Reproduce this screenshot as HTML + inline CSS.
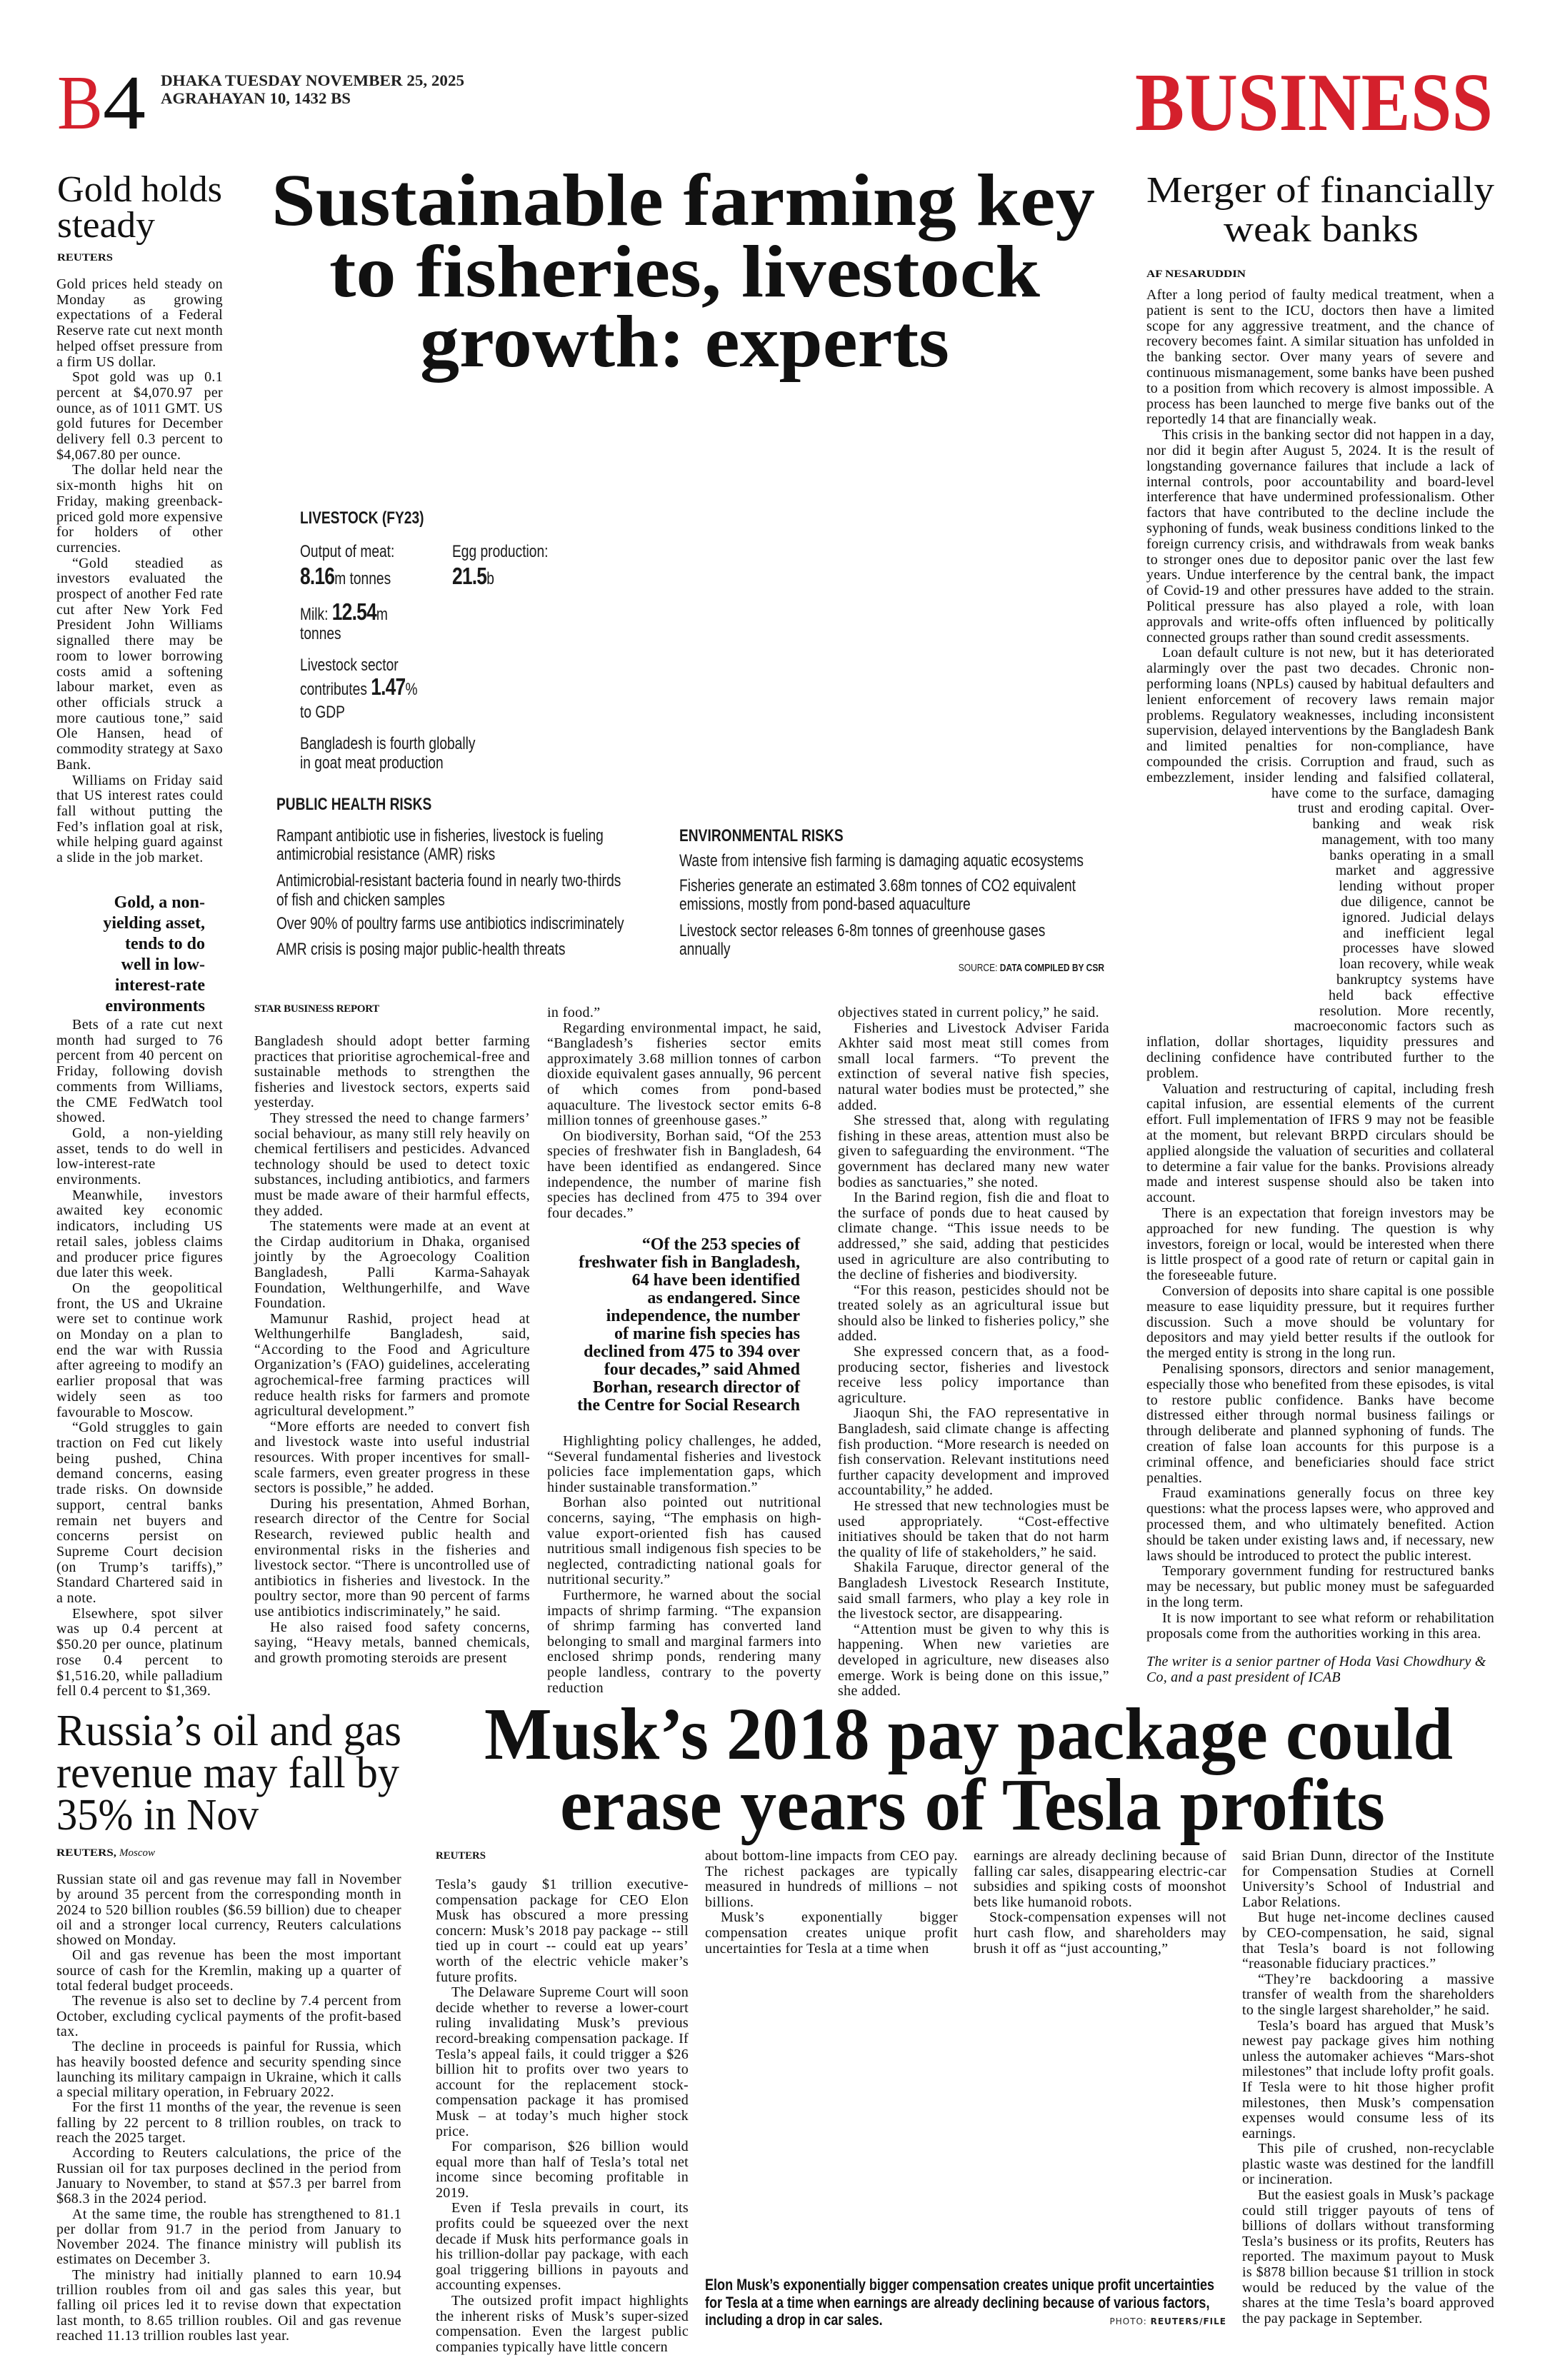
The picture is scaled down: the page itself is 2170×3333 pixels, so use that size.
<!DOCTYPE html>
<html><head><meta charset="utf-8">
<style>
body{margin:0;width:2170px;height:3333px;position:relative;background:#fff;overflow:hidden;color:#141414}
svg.ov{position:absolute;left:0;top:0}
.t{position:absolute;font-family:"Liberation Serif",serif;font-size:20px;letter-spacing:0.38px;line-height:21.7px;text-align:justify;color:#0d0d0d}
.t p{margin:0;text-indent:22px}
.t p.ni{text-indent:0}
.by{position:absolute;font-family:"Liberation Serif",serif;font-weight:bold;font-size:15px;letter-spacing:-0.3px}
.q{position:absolute;font-family:"Liberation Serif",serif;font-weight:bold;text-align:right;white-space:nowrap;color:#111}
.ig{position:absolute;font-family:"Liberation Sans",sans-serif;font-size:24px;line-height:24px;white-space:nowrap;transform:scaleX(.8);transform-origin:left top;color:#1a1a1a}
.ig b{font-weight:bold}
.big{font-size:33px;font-weight:bold;letter-spacing:-1px}
.cap{position:absolute;font-family:"Liberation Sans",sans-serif;font-weight:bold;font-size:22px;line-height:24.5px;white-space:nowrap;transform:scaleX(.82);transform-origin:left top;color:#111}
</style></head><body>

<svg class="ov" width="2170" height="3333" viewBox="0 0 2170 3333" font-family="Liberation Serif, serif">
<text x="80" y="180" font-size="108" fill="#d4202c" textLength="64" lengthAdjust="spacingAndGlyphs">B</text>
<text x="144" y="180" font-size="108" fill="#111" textLength="60" lengthAdjust="spacingAndGlyphs">4</text>
<text x="225" y="120" font-size="22" font-weight="bold" fill="#222" textLength="425" lengthAdjust="spacingAndGlyphs">DHAKA TUESDAY NOVEMBER 25, 2025</text>
<text x="225" y="145" font-size="22" font-weight="bold" fill="#222" textLength="266" lengthAdjust="spacingAndGlyphs">AGRAHAYAN 10, 1432 BS</text>
<text x="1589" y="182" font-size="116" font-weight="bold" fill="#d4202c" textLength="501" lengthAdjust="spacingAndGlyphs">BUSINESS</text>

<text x="80" y="282" font-size="52" fill="#111" textLength="231" lengthAdjust="spacingAndGlyphs">Gold holds</text>
<text x="80" y="332" font-size="52" fill="#111" textLength="137" lengthAdjust="spacingAndGlyphs">steady</text>
<text x="80" y="365" font-size="15" font-weight="bold" fill="#111" textLength="78" lengthAdjust="spacingAndGlyphs">REUTERS</text>

<text x="380" y="315" font-size="104" font-weight="bold" fill="#111" textLength="1153" lengthAdjust="spacingAndGlyphs">Sustainable farming key</text>
<text x="461" y="415" font-size="104" font-weight="bold" fill="#111" textLength="995" lengthAdjust="spacingAndGlyphs">to fisheries, livestock</text>
<text x="588" y="513" font-size="104" font-weight="bold" fill="#111" textLength="741" lengthAdjust="spacingAndGlyphs">growth: experts</text>

<text x="1605" y="283" font-size="52" fill="#111" textLength="487" lengthAdjust="spacingAndGlyphs">Merger of financially</text>
<text x="1713" y="338" font-size="52" fill="#111" textLength="273" lengthAdjust="spacingAndGlyphs">weak banks</text>
<text x="1605" y="388" font-size="15" font-weight="bold" fill="#111" textLength="139" lengthAdjust="spacingAndGlyphs">AF NESARUDDIN</text>

<text x="79" y="2444" font-size="62" fill="#111" textLength="483" lengthAdjust="spacingAndGlyphs">Russia’s oil and gas</text>
<text x="79" y="2503" font-size="62" fill="#111" textLength="480" lengthAdjust="spacingAndGlyphs">revenue may fall by</text>
<text x="79" y="2562" font-size="62" fill="#111" textLength="283" lengthAdjust="spacingAndGlyphs">35% in Nov</text>
<text x="79" y="2599" font-size="15" font-weight="bold" fill="#111" textLength="84" lengthAdjust="spacingAndGlyphs">REUTERS,</text>
<text x="167" y="2599" font-size="15" font-style="italic" fill="#111">Moscow</text>

<text x="678" y="2463" font-size="104" font-weight="bold" fill="#111" textLength="1356" lengthAdjust="spacingAndGlyphs">Musk’s 2018 pay package could</text>
<text x="784" y="2562" font-size="104" font-weight="bold" fill="#111" textLength="1155" lengthAdjust="spacingAndGlyphs">erase years of Tesla profits</text>
<text x="610" y="2603" font-size="15" font-weight="bold" fill="#111" textLength="70" lengthAdjust="spacingAndGlyphs">REUTERS</text>
</svg>

<!-- GOLD -->
<div class="t" style="left:79px;top:388px;width:233px;letter-spacing:0.3px">
<p class="ni">Gold prices held steady on Monday as growing expectations of a Federal Reserve rate cut next month helped offset pressure from a firm US dollar.</p>
<p>Spot gold was up 0.1 percent at $4,070.97 per ounce, as of 1011 GMT. US gold futures for December delivery fell 0.3 percent to $4,067.80 per ounce.</p>
<p>The dollar held near the six-month highs hit on Friday, making greenback-priced gold more expensive for holders of other currencies.</p>
<p>“Gold steadied as investors evaluated the prospect of another Fed rate cut after New York Fed President John Williams signalled there may be room to lower borrowing costs amid a softening labour market, even as other officials struck a more cautious tone,” said Ole Hansen, head of commodity strategy at Saxo Bank.</p>
<p>Williams on Friday said that US interest rates could fall without putting the Fed’s inflation goal at risk, while helping guard against a slide in the job market.</p>
</div>
<div class="q" style="left:100px;width:187px;top:1250px;font-size:24px;line-height:29px">Gold, a non-<br>yielding asset,<br>tends to do<br>well in low-<br>interest-rate<br>environments</div>
<div class="t" style="left:79px;top:1425px;width:233px">
<p>Bets of a rate cut next month had surged to 76 percent from 40 percent on Friday, following dovish comments from Williams, the CME FedWatch tool showed.</p>
<p>Gold, a non-yielding asset, tends to do well in low-interest-rate environments.</p>
<p>Meanwhile, investors awaited key economic indicators, including US retail sales, jobless claims and producer price figures due later this week.</p>
<p>On the geopolitical front, the US and Ukraine were set to continue work on Monday on a plan to end the war with Russia after agreeing to modify an earlier proposal that was widely seen as too favourable to Moscow.</p>
<p>“Gold struggles to gain traction on Fed cut likely being pushed, China demand concerns, easing trade risks. On downside support, central banks remain net buyers and concerns persist on Supreme Court decision (on Trump’s tariffs),” Standard Chartered said in a note.</p>
<p>Elsewhere, spot silver was up 0.4 percent at $50.20 per ounce, platinum rose 0.4 percent to $1,516.20, while palladium fell 0.4 percent to $1,369.</p>
</div>

<!-- INFOGRAPHIC -->
<div class="ig" style="left:420px;top:714px"><b>LIVESTOCK (FY23)</b></div>
<div class="ig" style="left:420px;top:761px">Output of meat:</div>
<div class="ig" style="left:633px;top:761px">Egg production:</div>
<div class="ig" style="left:420px;top:792px;line-height:30px"><span class="big">8.16</span>m tonnes</div>
<div class="ig" style="left:633px;top:792px;line-height:30px"><span class="big">21.5</span>b</div>
<div class="ig" style="left:420px;top:842px;line-height:30px">Milk: <span class="big">12.54</span>m</div>
<div class="ig" style="left:420px;top:876px">tonnes</div>
<div class="ig" style="left:420px;top:920px">Livestock sector</div>
<div class="ig" style="left:420px;top:947px;line-height:30px">contributes <span class="big">1.47</span>%</div>
<div class="ig" style="left:420px;top:986px">to GDP</div>
<div class="ig" style="left:420px;top:1030px">Bangladesh is fourth globally</div>
<div class="ig" style="left:420px;top:1057px">in goat meat production</div>
<div class="ig" style="left:387px;top:1115px"><b>PUBLIC HEALTH RISKS</b></div>
<div class="ig" style="left:387px;top:1159px">Rampant antibiotic use in fisheries, livestock is fueling</div>
<div class="ig" style="left:387px;top:1185px">antimicrobial resistance (AMR) risks</div>
<div class="ig" style="left:387px;top:1222px">Antimicrobial-resistant bacteria found in nearly two-thirds</div>
<div class="ig" style="left:387px;top:1249px">of fish and chicken samples</div>
<div class="ig" style="left:387px;top:1282px">Over 90% of poultry farms use antibiotics indiscriminately</div>
<div class="ig" style="left:387px;top:1318px">AMR crisis is posing major public-health threats</div>
<div class="ig" style="left:951px;top:1159px"><b>ENVIRONMENTAL RISKS</b></div>
<div class="ig" style="left:951px;top:1194px">Waste from intensive fish farming is damaging aquatic ecosystems</div>
<div class="ig" style="left:951px;top:1229px">Fisheries generate an estimated 3.68m tonnes of CO2 equivalent</div>
<div class="ig" style="left:951px;top:1255px">emissions, mostly from pond-based aquaculture</div>
<div class="ig" style="left:951px;top:1292px">Livestock sector releases 6-8m tonnes of greenhouse gases</div>
<div class="ig" style="left:951px;top:1318px">annually</div>
<div class="ig" style="left:1546px;top:1348px;font-size:15px;line-height:15px;transform-origin:right top;transform:translateX(-100%) scaleX(.8)">SOURCE: <b>DATA COMPILED BY CSR</b></div>

<!-- MAIN STORY -->
<div class="by" style="left:356px;top:1405px">STAR BUSINESS REPORT</div>
<div class="t" style="left:356px;top:1448px;width:386px;line-height:21.6px">
<p class="ni">Bangladesh should adopt better farming practices that prioritise agrochemical-free and sustainable methods to strengthen the fisheries and livestock sectors, experts said yesterday.</p>
<p>They stressed the need to change farmers’ social behaviour, as many still rely heavily on chemical fertilisers and pesticides. Advanced technology should be used to detect toxic substances, including antibiotics, and farmers must be made aware of their harmful effects, they added.</p>
<p>The statements were made at an event at the Cirdap auditorium in Dhaka, organised jointly by the Agroecology Coalition Bangladesh, Palli Karma-Sahayak Foundation, Welthungerhilfe, and Wave Foundation.</p>
<p>Mamunur Rashid, project head at Welthungerhilfe Bangladesh, said, “According to the Food and Agriculture Organization’s (FAO) guidelines, accelerating agrochemical-free farming practices will reduce health risks for farmers and promote agricultural development.”</p>
<p>“More efforts are needed to convert fish and livestock waste into useful industrial resources. With proper incentives for small-scale farmers, even greater progress in these sectors is possible,” he added.</p>
<p>During his presentation, Ahmed Borhan, research director of the Centre for Social Research, reviewed public health and environmental risks in the fisheries and livestock sector. “There is uncontrolled use of antibiotics in fisheries and livestock. In the poultry sector, more than 90 percent of farms use antibiotics indiscriminately,” he said.</p>
<p>He also raised food safety concerns, saying, “Heavy metals, banned chemicals, and growth promoting steroids are present</p>
</div>
<div class="t" style="left:766px;top:1408px;width:384px;line-height:21.6px">
<p class="ni">in food.”</p>
<p>Regarding environmental impact, he said, “Bangladesh’s fisheries sector emits approximately 3.68 million tonnes of carbon dioxide equivalent gases annually, 96 percent of which comes from pond-based aquaculture. The livestock sector emits 6-8 million tonnes of greenhouse gases.”</p>
<p>On biodiversity, Borhan said, “Of the 253 species of freshwater fish in Bangladesh, 64 have been identified as endangered. Since independence, the number of marine fish species has declined from 475 to 394 over four decades.”</p>
</div>
<div class="q" style="left:766px;width:354px;top:1731px;font-size:24px;line-height:25px">“Of the 253 species of<br>freshwater fish in Bangladesh,<br>64 have been identified<br>as endangered. Since<br>independence, the number<br>of marine fish species has<br>declined from 475 to 394 over<br>four decades,” said Ahmed<br>Borhan, research director of<br>the Centre for Social Research</div>
<div class="t" style="left:766px;top:2008px;width:384px;line-height:21.6px">
<p>Highlighting policy challenges, he added, “Several fundamental fisheries and livestock policies face implementation gaps, which hinder sustainable transformation.”</p>
<p>Borhan also pointed out nutritional concerns, saying, “The emphasis on high-value export-oriented fish has caused nutritious small indigenous fish species to be neglected, contradicting national goals for nutritional security.”</p>
<p>Furthermore, he warned about the social impacts of shrimp farming. “The expansion of shrimp farming has converted land belonging to small and marginal farmers into enclosed shrimp ponds, rendering many people landless, contrary to the poverty reduction</p>
</div>
<div class="t" style="left:1173px;top:1408px;width:380px;line-height:21.6px">
<p class="ni">objectives stated in current policy,” he said.</p>
<p>Fisheries and Livestock Adviser Farida Akhter said most meat still comes from small local farmers. “To prevent the extinction of several native fish species, natural water bodies must be protected,” she added.</p>
<p>She stressed that, along with regulating fishing in these areas, attention must also be given to safeguarding the environment. “The government has declared many new water bodies as sanctuaries,” she noted.</p>
<p>In the Barind region, fish die and float to the surface of ponds due to heat caused by climate change. “This issue needs to be addressed,” she said, adding that pesticides used in agriculture are also contributing to the decline of fisheries and biodiversity.</p>
<p>“For this reason, pesticides should not be treated solely as an agricultural issue but should also be linked to fisheries policy,” she added.</p>
<p>She expressed concern that, as a food-producing sector, fisheries and livestock receive less policy importance than agriculture.</p>
<p>Jiaoqun Shi, the FAO representative in Bangladesh, said climate change is affecting fish production. “More research is needed on fish conservation. Relevant institutions need further capacity development and improved accountability,” he added.</p>
<p>He stressed that new technologies must be used appropriately. “Cost-effective initiatives should be taken that do not harm the quality of life of stakeholders,” he said.</p>
<p>Shakila Faruque, director general of the Bangladesh Livestock Research Institute, said small farmers, who play a key role in the livestock sector, are disappearing.</p>
<p>“Attention must be given to why this is happening. When new varieties are developed in agriculture, new diseases also emerge. Work is being done on this issue,” she added.</p>
</div>

<!-- MERGER -->
<div class="t" style="left:1605px;top:403px;width:487px;line-height:21.8px;letter-spacing:0.2px">
<div style="float:left;width:0;height:719px"></div>
<div style="float:left;clear:left;width:276px;height:327px;shape-outside:polygon(0 0,175px 0,175px 21px,212px 22px,212px 43px,235px 44px,235px 65px,250px 66px,250px 87px,263px 88px,263px 109px,269px 110px,269px 131px,272px 132px,272px 153px,274px 154px,274px 175px,275px 176px,275px 197px,270px 198px,270px 219px,266px 220px,266px 241px,255px 242px,255px 263px,242px 264px,242px 285px,220px 286px,220px 305px,190px 306px,190px 326px,0 327px)"></div>
<p class="ni">After a long period of faulty medical treatment, when a patient is sent to the ICU, doctors then have a limited scope for any aggressive treatment, and the chance of recovery becomes faint. A similar situation has unfolded in the banking sector. Over many years of severe and continuous mismanagement, some banks have been pushed to a position from which recovery is almost impossible. A process has been launched to merge five banks out of the reportedly 14 that are financially weak.</p>
<p>This crisis in the banking sector did not happen in a day, nor did it begin after August 5, 2024. It is the result of longstanding governance failures that include a lack of internal controls, poor accountability and board-level interference that have undermined professionalism. Other factors that have contributed to the decline include the syphoning of funds, weak business conditions linked to the foreign currency crisis, and withdrawals from weak banks to stronger ones due to depositor panic over the last few years. Undue interference by the central bank, the impact of Covid-19 and other pressures have added to the strain. Political pressure has also played a role, with loan approvals and write-offs often influenced by politically connected groups rather than sound credit assessments.</p>
<p>Loan default culture is not new, but it has deteriorated alarmingly over the past two decades. Chronic non-performing loans (NPLs) caused by habitual defaulters and lenient enforcement of recovery laws remain major problems. Regulatory weaknesses, including inconsistent supervision, delayed interventions by the Bangladesh Bank and limited penalties for non-compliance, have compounded the crisis. Corruption and fraud, such as embezzlement, insider lending and falsified collateral, have come to the surface, damaging trust and eroding capital. Over-banking and weak risk management, with too many banks operating in a small market and aggressive lending without proper due diligence, cannot be ignored. Judicial delays and inefficient legal processes have slowed loan recovery, while weak bankruptcy systems have held back effective resolution. More recently, macroeconomic factors such as inflation, dollar shortages, liquidity pressures and declining confidence have contributed further to the problem.</p>
<p>Valuation and restructuring of capital, including fresh capital infusion, are essential elements of the current effort. Full implementation of IFRS 9 may not be feasible at the moment, but relevant BRPD circulars should be applied alongside the valuation of securities and collateral to determine a fair value for the banks. Provisions already made and interest suspense should also be taken into account.</p>
<p>There is an expectation that foreign investors may be approached for new funding. The question is why investors, foreign or local, would be interested when there is little prospect of a good rate of return or capital gain in the foreseeable future.</p>
<p>Conversion of deposits into share capital is one possible measure to ease liquidity pressure, but it requires further discussion. Such a move should be voluntary for depositors and may yield better results if the outlook for the merged entity is strong in the long run.</p>
<p>Penalising sponsors, directors and senior management, especially those who benefited from these episodes, is vital to restore public confidence. Banks have become distressed either through normal business failings or through deliberate and planned syphoning of funds. The creation of false loan accounts for this purpose is a criminal offence, and beneficiaries should face strict penalties.</p>
<p>Fraud examinations generally focus on three key questions: what the process lapses were, who approved and processed them, and who ultimately benefited. Action should be taken under existing laws and, if necessary, new laws should be introduced to protect the public interest.</p>
<p>Temporary government funding for restructured banks may be necessary, but public money must be safeguarded in the long term.</p>
<p>It is now important to see what reform or rehabilitation proposals come from the authorities working in this area.</p>
<p class="ni" style="margin-top:18px;font-style:italic;text-align:left">The writer is a senior partner of Hoda Vasi Chowdhury &amp; Co, and a past president of ICAB</p>
</div>

<!-- RUSSIA -->
<div class="t" style="left:79px;top:2622px;width:483px;line-height:21.3px">
<p class="ni">Russian state oil and gas revenue may fall in November by around 35 percent from the corresponding month in 2024 to 520 billion roubles ($6.59 billion) due to cheaper oil and a stronger local currency, Reuters calculations showed on Monday.</p>
<p>Oil and gas revenue has been the most important source of cash for the Kremlin, making up a quarter of total federal budget proceeds.</p>
<p>The revenue is also set to decline by 7.4 percent from October, excluding cyclical payments of the profit-based tax.</p>
<p>The decline in proceeds is painful for Russia, which has heavily boosted defence and security spending since launching its military campaign in Ukraine, which it calls a special military operation, in February 2022.</p>
<p>For the first 11 months of the year, the revenue is seen falling by 22 percent to 8 trillion roubles, on track to reach the 2025 target.</p>
<p>According to Reuters calculations, the price of the Russian oil for tax purposes declined in the period from January to November, to stand at $57.3 per barrel from $68.3 in the 2024 period.</p>
<p>At the same time, the rouble has strengthened to 81.1 per dollar from 91.7 in the period from January to November 2024. The finance ministry will publish its estimates on December 3.</p>
<p>The ministry had initially planned to earn 10.94 trillion roubles from oil and gas sales this year, but falling oil prices led it to revise down that expectation last month, to 8.65 trillion roubles. Oil and gas revenue reached 11.13 trillion roubles last year.</p>
</div>

<!-- MUSK -->
<div class="t" style="left:610px;top:2629px;width:354px;line-height:21.6px;letter-spacing:0.3px">
<p class="ni">Tesla’s gaudy $1 trillion executive-compensation package for CEO Elon Musk has obscured a more pressing concern: Musk’s 2018 pay package -- still tied up in court -- could eat up years’ worth of the electric vehicle maker’s future profits.</p>
<p>The Delaware Supreme Court will soon decide whether to reverse a lower-court ruling invalidating Musk’s previous record-breaking compensation package. If Tesla’s appeal fails, it could trigger a $26 billion hit to profits over two years to account for the replacement stock-compensation package it has promised Musk – at today’s much higher stock price.</p>
<p>For comparison, $26 billion would equal more than half of Tesla’s total net income since becoming profitable in 2019.</p>
<p>Even if Tesla prevails in court, its profits could be squeezed over the next decade if Musk hits performance goals in his trillion-dollar pay package, with each goal triggering billions in payouts and accounting expenses.</p>
<p>The outsized profit impact highlights the inherent risks of Musk’s super-sized compensation. Even the largest public companies typically have little concern</p>
</div>
<div class="t" style="left:987px;top:2589px;width:354px;line-height:21.6px">
<p class="ni">about bottom-line impacts from CEO pay. The richest packages are typically measured in hundreds of millions – not billions.</p>
<p>Musk’s exponentially bigger compensation creates unique profit uncertainties for Tesla at a time when</p>
</div>
<div class="t" style="left:1363px;top:2589px;width:354px;line-height:21.6px">
<p class="ni">earnings are already declining because of falling car sales, disappearing electric-car subsidies and spiking costs of moonshot bets like humanoid robots.</p>
<p>Stock-compensation expenses will not hurt cash flow, and shareholders may brush it off as “just accounting,”</p>
</div>
<div class="t" style="left:1739px;top:2589px;width:353px;line-height:21.6px;letter-spacing:0.3px">
<p class="ni">said Brian Dunn, director of the Institute for Compensation Studies at Cornell University’s School of Industrial and Labor Relations.</p>
<p>But huge net-income declines caused by CEO-compensation, he said, signal that Tesla’s board is not following “reasonable fiduciary practices.”</p>
<p>“They’re backdooring a massive transfer of wealth from the shareholders to the single largest shareholder,” he said.</p>
<p>Tesla’s board has argued that Musk’s newest pay package gives him nothing unless the automaker achieves “Mars-shot milestones” that include lofty profit goals. If Tesla were to hit those higher profit milestones, then Musk’s compensation expenses would consume less of its earnings.</p>
<p>This pile of crushed, non-recyclable plastic waste was destined for the landfill or incineration.</p>
<p>But the easiest goals in Musk’s package could still trigger payouts of tens of billions of dollars without transforming Tesla’s business or its profits, Reuters has reported. The maximum payout to Musk is $878 billion because $1 trillion in stock would be reduced by the value of the shares at the time Tesla’s board approved the pay package in September.</p>
</div>
<div class="cap" style="left:987px;top:3188px">Elon Musk’s exponentially bigger compensation creates unique profit uncertainties<br>for Tesla at a time when earnings are already declining because of various factors,<br>including a drop in car sales.</div>
<div style="position:absolute;left:1547px;top:3244px;width:170px;text-align:right;font-family:'DejaVu Sans',sans-serif;font-size:12px;letter-spacing:1px;color:#222">PHOTO: <b>REUTERS/FILE</b></div>

</body></html>
